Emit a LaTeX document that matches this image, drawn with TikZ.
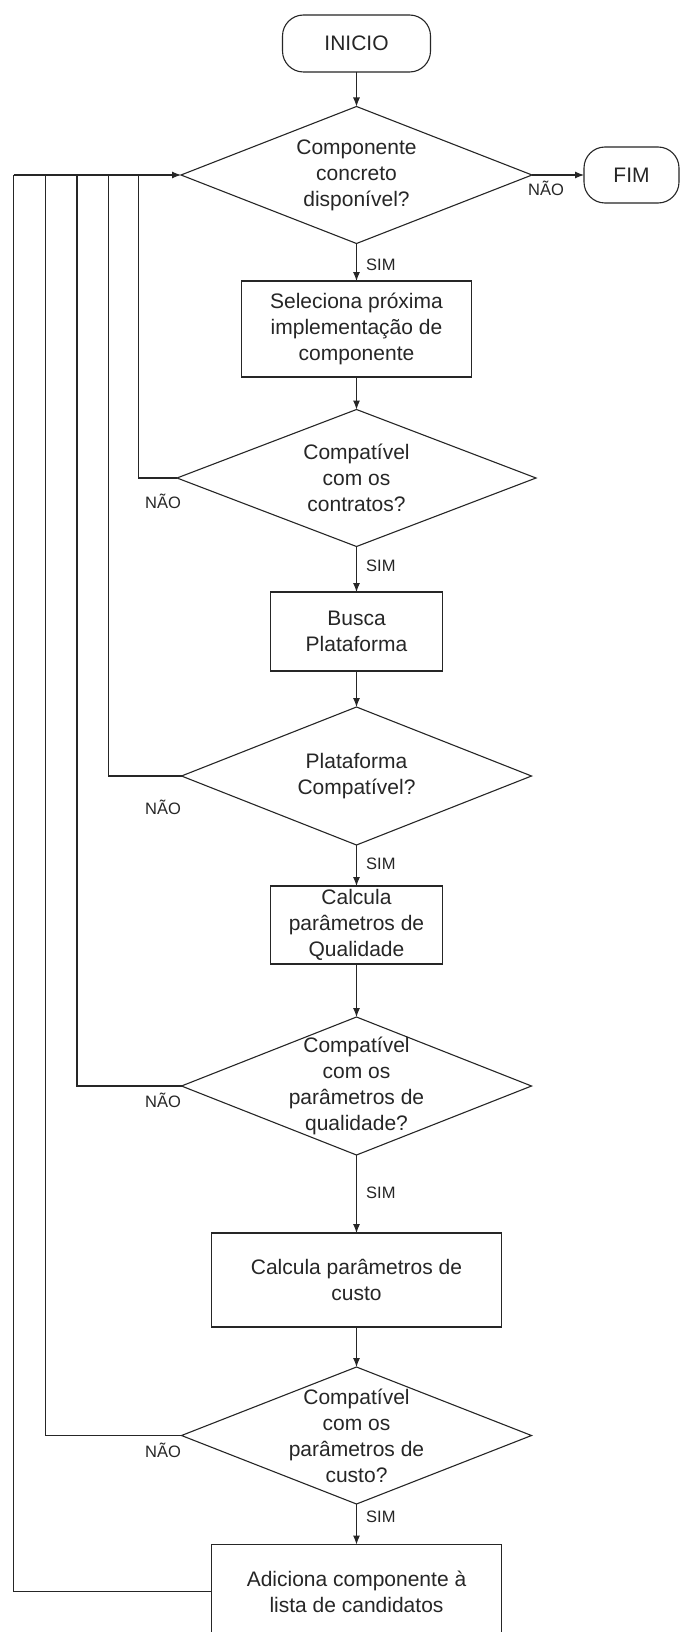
\documentclass[tikz,border=0pt]{standalone}
\usepackage{fontspec}
\setmainfont{Liberation Sans}
\usetikzlibrary{shapes.geometric,arrows.meta,calc}
\begin{document}
\begin{tikzpicture}[x=1pt,y=-1pt,
  ink/.style={draw=black!85,line width=1.1pt},
  line/.style={ink},
  flow/.style={ink,-{Latex[length=9pt,width=7pt]}},
  txt/.style={text=black!85,font=\fontsize{21}{26}\selectfont},
  term/.style={ink,txt,rectangle,rounded corners=21pt,inner sep=0pt,outer sep=0pt},
  proc/.style={ink,txt,rectangle,align=center,inner sep=0pt,outer sep=0pt},
  dec/.style={ink,diamond,inner sep=0pt,outer sep=0pt},
  dtext/.style={txt,align=center,inner sep=0pt},
  lbl/.style={text=black!85,inner sep=0pt,anchor=base west,font=\fontsize{16.5}{20}\selectfont}]
\useasboundingbox (0,0) rectangle (680,1632);
\clip (0,0) rectangle (680,1632);
\fill[white] (0,0) rectangle (680,1632);

% start / end terminals
\node[term,minimum width=148,minimum height=57] (ini) at (356.5,43.5) {INICIO};
\node[term,minimum width=95,minimum height=56] (fim) at (631.5,175) {FIM};

% decisions
\node[dec,minimum width=351,minimum height=137] (d1) at (356.5,175) {};
\node[dtext] (d1t) at (d1.center) {Componente\\concreto\\disponível?};
\node[dec,minimum width=359,minimum height=137] (d2) at (356.5,478) {};
\node[dtext] (d2t) at (d2.center) {Compatível\\com os\\contratos?};
\node[dec,minimum width=350,minimum height=138] (d3) at (356.5,776) {};
\node[dtext] (d3t) at (d3.center) {Plataforma\\Compatível?};
\node[dec,minimum width=350,minimum height=138] (d4) at (356.5,1086) {};
\node[dtext] (d4t) at (d4.center) {Compatível\\com os\\parâmetros de\\qualidade?};
\node[dec,minimum width=350,minimum height=137] (d5) at (356.5,1435.5) {};
\node[dtext] (d5t) at (d5.center) {Compatível\\com os\\parâmetros de\\custo?};

% process steps
\node[proc,minimum width=230.5,minimum height=96] (b1) at (356.5,329) {Seleciona próxima\\implementação de\\componente};
\node[proc,minimum width=172,minimum height=79] (b2) at (356.5,631.5) {Busca\\Plataforma};
\node[proc,minimum width=172,minimum height=78] (b3) at (356.5,925) {Calcula\\parâmetros de\\Qualidade};
\node[proc,minimum width=289.5,minimum height=94] (b4) at (356.5,1280) {Calcula parâmetros de\\custo};
\node[proc,minimum width=289.5,minimum height=94] (b5) at (356.5,1591.5) {Adiciona componente à\\lista de candidatos};

% main flow
\draw[flow] (ini.south) -- (d1.north);
\draw[flow] (d1.east) -- (fim.west);
\draw[flow] (d1.south) -- (b1.north);
\draw[flow] (b1.south) -- (d2.north);
\draw[flow] (d2.south) -- (b2.north);
\draw[flow] (b2.south) -- (d3.north);
\draw[flow] (d3.south) -- (b3.north);
\draw[flow] (b3.south) -- (d4.north);
\draw[flow] (d4.south) -- (b4.north);
\draw[flow] (b4.south) -- (d5.north);
\draw[flow] (d5.south) -- (b5.north);

% return paths back to the first decision
\coordinate (k1) at (13.5,175);
\coordinate (k2) at (45.5,175);
\coordinate (k3) at (77,175);
\coordinate (k4) at (108.5,175);
\coordinate (k5) at (138.5,175);
\draw[line] (b5.west) -| (k1);
\draw[line] (d5.west) -| (k2);
\draw[line] (d4.west) -| (k3);
\draw[line] (d3.west) -| (k4);
\draw[line] (d2.west) -| (k5);
\draw[flow] (k1) -- (d1.west);

% branch labels
\node[lbl] (n1) at ($(d1.east)+(-4,21)$) {NÃO};
\node[lbl] (n2) at ($(d2.west)+(-32,30)$) {NÃO};
\node[lbl] (n3) at ($(d3.west)+(-36.5,38)$) {NÃO};
\node[lbl] (n4) at ($(d4.west)+(-36.5,21)$) {NÃO};
\node[lbl] (n5) at ($(d5.west)+(-36.5,21.5)$) {NÃO};
\node[lbl] (s1) at ($(d1.south)+(9.5,27)$) {SIM};
\node[lbl] (s2) at ($(d2.south)+(9.5,25)$) {SIM};
\node[lbl] (s3) at ($(d3.south)+(9.5,24)$) {SIM};
\node[lbl] (s4) at ($(d4.south)+(9.5,43)$) {SIM};
\node[lbl] (s5) at ($(d5.south)+(9.5,18)$) {SIM};
\end{tikzpicture}
\end{document}
